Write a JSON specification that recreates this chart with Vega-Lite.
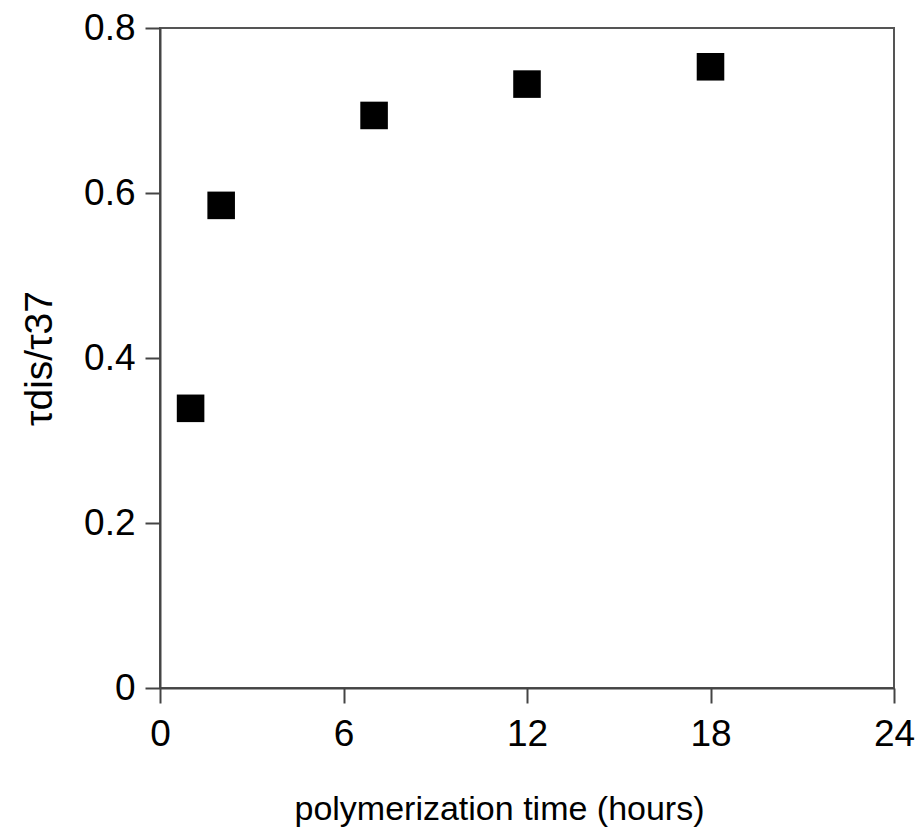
{
  "$schema": "https://vega.github.io/schema/vega-lite/v6.json",
  "width": 734,
  "height": 660,
  "autosize": {"type": "none"},
  "padding": {"left": 160, "top": 28, "right": 28, "bottom": 141},
  "background": "white",
  "config": {
    "font": "Liberation Sans",
    "view": {"stroke": "#555555", "strokeWidth": 2},
    "axis": {
      "grid": false,
      "domainColor": "#444444",
      "domainWidth": 2,
      "tickColor": "#444444",
      "tickWidth": 2,
      "tickSize": 15,
      "labelFont": "Liberation Sans",
      "labelFontSize": 37,
      "labelColor": "#000000",
      "titleFont": "Liberation Sans",
      "titleFontWeight": "normal",
      "titleColor": "#000000"
    }
  },
  "data": {
    "values": [
      {"hours": 1, "ratio": 0.339},
      {"hours": 2, "ratio": 0.585},
      {"hours": 7, "ratio": 0.694},
      {"hours": 12, "ratio": 0.732},
      {"hours": 18, "ratio": 0.753}
    ]
  },
  "mark": {"type": "point", "shape": "square", "filled": true, "color": "#000000", "size": 760, "opacity": 1},
  "encoding": {
    "x": {
      "field": "hours",
      "type": "quantitative",
      "scale": {"domain": [0, 24], "nice": false, "zero": false},
      "axis": {
        "title": "polymerization time (hours)",
        "values": [0, 6, 12, 18, 24],
        "labelPadding": 13,
        "titleFontSize": 34,
        "titlePadding": 40,
        "titleX": 339,
        "labelFlush": false
      }
    },
    "y": {
      "field": "ratio",
      "type": "quantitative",
      "scale": {"domain": [0, 0.8], "nice": false},
      "axis": {
        "title": "τdis/τ37",
        "values": [0, 0.2, 0.4, 0.6, 0.8],
        "format": ".1~f",
        "labelPadding": 10,
        "titleFontSize": 39,
        "titlePadding": 24,
        "labelFlush": false
      }
    }
  }
}
